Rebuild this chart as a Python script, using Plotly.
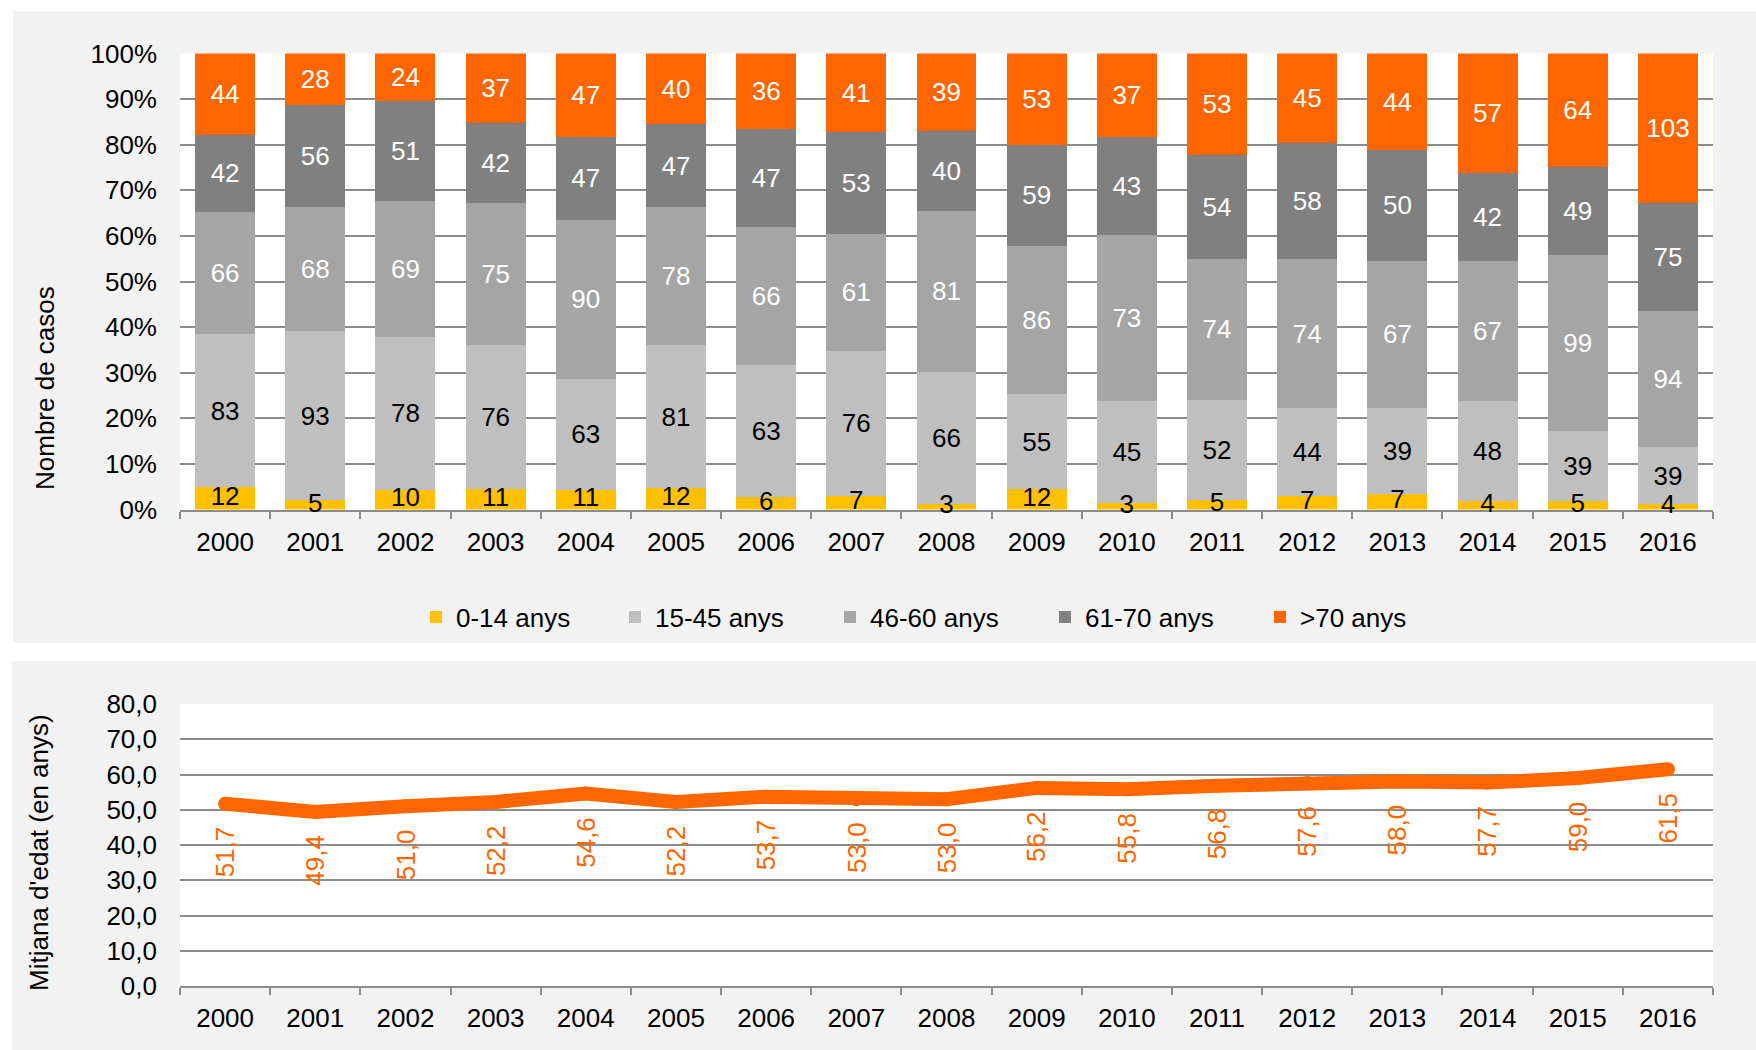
import plotly.graph_objects as go

years = [str(y) for y in range(2000, 2017)]

# nombre de casos per grup d'edat
age_0_14 = [12, 5, 10, 11, 11, 12, 6, 7, 3, 12, 3, 5, 7, 7, 4, 5, 4]
age_15_45 = [83, 93, 78, 76, 63, 81, 63, 76, 66, 55, 45, 52, 44, 39, 48, 39, 39]
age_46_60 = [66, 68, 69, 75, 90, 78, 66, 61, 81, 86, 73, 74, 74, 67, 67, 99, 94]
age_61_70 = [42, 56, 51, 42, 47, 47, 47, 53, 40, 59, 43, 54, 58, 50, 42, 49, 75]
age_70_plus = [44, 28, 24, 37, 47, 40, 36, 41, 39, 53, 37, 53, 45, 44, 57, 64, 103]

# mitjana d'edat
mean_age = [51.7, 49.4, 51.0, 52.2, 54.6, 52.2, 53.7, 53.0, 53.0, 56.2, 55.8,
            56.8, 57.6, 58.0, 57.7, 59.0, 61.5]

series = [
    ("0-14 anys", age_0_14, "#FFC000", "black"),
    ("15-45 anys", age_15_45, "#BFBFBF", "black"),
    ("46-60 anys", age_46_60, "#A5A5A5", "white"),
    ("61-70 anys", age_61_70, "#808080", "white"),
    (">70 anys", age_70_plus, "#FF6600", "white"),
]
# posició horitzontal (px) de cada entrada de la llegenda
legend_px = [416, 615, 830, 1045, 1260]

FONT = "Liberation Sans, Arial, sans-serif"
GRID = "#8c8c8c"
W, H = 1756, 1050

fig = go.Figure()

legend_ids = ["legend"] + [f"legend{k}" for k in range(2, len(series) + 1)]

for k, ((name, vals, col, tcol), lid) in enumerate(zip(series, legend_ids)):
    fig.add_trace(go.Bar(
        x=years, y=vals, name=name, marker_color=col, marker_line_width=0,
        text=[str(v) for v in vals],
        # el primer grup porta l'etiqueta a sobre (vegeu més avall)
        textposition="none" if k == 0 else "inside",
        insidetextanchor="middle", textangle=0, constraintext="none",
        cliponaxis=False, legend=lid,
        textfont=dict(family=FONT, size=26, color=tcol),
        xaxis="x", yaxis="y",
    ))

# etiquetes del grup 0-14 (segment molt prim): dibuixades per sobre de tot
totals = [sum(s[1][i] for s in series) for i in range(len(years))]
fig.add_trace(go.Scatter(
    x=years, y=[v / t * 50 for v, t in zip(age_0_14, totals)],
    mode="text", text=[str(v) for v in age_0_14], cliponaxis=False,
    textfont=dict(family=FONT, size=26, color="black"),
    showlegend=False, hoverinfo="skip", xaxis="x", yaxis="y",
))

fig.add_trace(go.Scatter(
    x=years, y=mean_age, mode="lines+markers",
    line=dict(color="#FF6600", width=14),
    marker=dict(color="#FF6600", size=14, line_width=0),
    showlegend=False, xaxis="x2", yaxis="y2",
))

# etiquetes de la línia (eix de categories: posició per índex)
for i, v in enumerate(mean_age):
    fig.add_annotation(
        x=i, y=v, xref="x2", yref="y2", text=f"{v:.1f}".replace(".", ","),
        textangle=-90, showarrow=False, yanchor="top", xanchor="center",
        yshift=-21, font=dict(family=FONT, size=26, color="#FF6600"),
    )

# títols dels eixos
fig.add_annotation(x=45 / W, y=1 - 388 / H, xref="paper", yref="paper",
                   text="Nombre de casos", textangle=-90, showarrow=False,
                   xanchor="center", yanchor="middle",
                   font=dict(family=FONT, size=26, color="black"))
fig.add_annotation(x=39 / W, y=1 - 853 / H, xref="paper", yref="paper",
                   text="Mitjana d'edat (en anys)", textangle=-90, showarrow=False,
                   xanchor="center", yanchor="middle",
                   font=dict(family=FONT, size=26, color="black"))

# fons dels dos panells
fig.add_shape(type="rect", xref="paper", yref="paper", x0=13 / W, x1=1,
              y0=1 - 643 / H, y1=1 - 11 / H, fillcolor="#F2F2F2",
              line_width=0, layer="below")
fig.add_shape(type="rect", xref="paper", yref="paper", x0=12 / W, x1=1,
              y0=0, y1=1 - 661 / H, fillcolor="#F2F2F2",
              line_width=0, layer="below")
# àrees de dibuix blanques
for ax in ["x", "x2"]:
    ay = "y" if ax == "x" else "y2"
    fig.add_shape(type="rect", xref=f"{ax} domain", yref=f"{ay} domain",
                  x0=0, x1=1, y0=0, y1=1, fillcolor="white",
                  line_width=0, layer="below")

xdom = [180 / W, 1713 / W]
xax = dict(type="category", showline=True, linecolor=GRID, linewidth=2,
           ticks="outside", tickson="boundaries", ticklen=7, tickwidth=2,
           tickcolor=GRID, showgrid=False, ticklabelstandoff=8,
           automargin=False, tickangle=0, layer="below traces",
           range=[-0.5, len(years) - 0.5],
           tickfont=dict(family=FONT, size=26, color="black"))
yax = dict(showgrid=True, gridcolor=GRID, gridwidth=2, zeroline=False,
           showline=False, ticks="", ticklabelstandoff=22, automargin=False,
           tickfont=dict(family=FONT, size=26, color="black"))

legends = {}
for lid, px in zip(legend_ids, legend_px):
    legends[lid] = dict(orientation="h", x=px / W, xanchor="left",
                        y=1 - 617 / H, yanchor="middle", itemwidth=30,
                        bgcolor="rgba(0,0,0,0)",
                        font=dict(family=FONT, size=26, color="black"))

fig.update_layout(
    width=W, height=H, autosize=False,
    margin=dict(l=0, r=0, t=0, b=0),
    paper_bgcolor="white", plot_bgcolor="white",
    separators=", ",
    barmode="stack", barnorm="percent", bargap=0.335,
    uniformtext=dict(minsize=26, mode="show"),
    xaxis=dict(domain=xdom, anchor="y", **xax),
    yaxis=dict(domain=[1 - 509.6 / H, 1 - 53.4 / H], anchor="x",
               range=[0, 100.001], tick0=0, dtick=10, ticksuffix="%", **yax),
    xaxis2=dict(domain=xdom, anchor="y2", **xax),
    yaxis2=dict(domain=[1 - 986 / H, 1 - 704 / H], anchor="x2",
                range=[0, 80], dtick=10, tickformat=".1f", **yax),
    showlegend=True,
    **legends,
)

fig.write_html("out.html", config={"displayModeBar": False},
               post_script="document.body.style.margin='0';")
